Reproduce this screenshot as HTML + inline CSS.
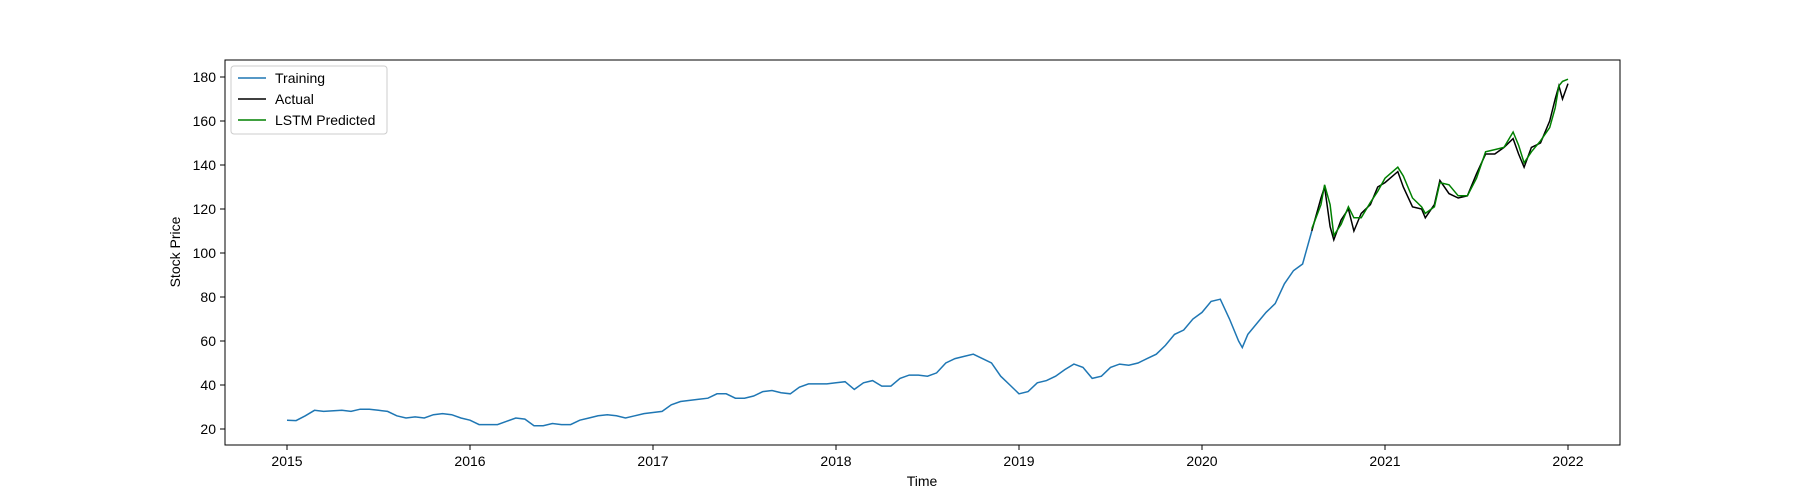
<!DOCTYPE html>
<html><head><meta charset="utf-8"><style>
html,body{margin:0;padding:0;background:#fff;}
svg{display:block;font-family:"Liberation Sans","DejaVu Sans",sans-serif;}
</style></head><body>
<svg id="chart" width="1800" height="500" xmlns="http://www.w3.org/2000/svg">
<rect width="1800" height="500" fill="#fff"/>
<g id="plot"></g>
<rect x="225" y="60" width="1395" height="385" fill="none" stroke="#000" stroke-width="1"/>
<g id="axes"></g>
<text x="922" y="486" font-size="14" text-anchor="middle">Time</text>
<text transform="translate(180,252) rotate(-90)" font-size="14" text-anchor="middle">Stock Price</text>
<g>
<rect x="231" y="66" width="156" height="68" rx="3" fill="#fff" stroke="#ccc"/>
<line x1="238" y1="78" x2="266" y2="78" stroke="#1f77b4" stroke-width="1.5"/>
<text x="275" y="83" font-size="14">Training</text>
<line x1="238" y1="99" x2="266" y2="99" stroke="#000" stroke-width="1.5"/>
<text x="275" y="104" font-size="14">Actual</text>
<line x1="238" y1="120" x2="266" y2="120" stroke="#008000" stroke-width="1.5"/>
<text x="275" y="125" font-size="14">LSTM Predicted</text>
</g>
</svg>
<script>
const trainT=[2015.0,2015.05,2015.1,2015.15,2015.2,2015.3,2015.35,2015.4,2015.45,2015.5,2015.55,2015.6,2015.65,2015.7,2015.75,2015.8,2015.85,2015.9,2015.95,2016.0,2016.05,2016.1,2016.15,2016.2,2016.25,2016.3,2016.35,2016.4,2016.45,2016.5,2016.55,2016.6,2016.65,2016.7,2016.75,2016.8,2016.85,2016.9,2016.95,2017.0,2017.05,2017.1,2017.15,2017.2,2017.25,2017.3,2017.35,2017.4,2017.45,2017.5,2017.55,2017.6,2017.65,2017.7,2017.75,2017.8,2017.85,2017.9,2017.95,2018.0,2018.05,2018.1,2018.15,2018.2,2018.25,2018.3,2018.35,2018.4,2018.45,2018.5,2018.55,2018.6,2018.65,2018.7,2018.75,2018.8,2018.85,2018.9,2018.95,2019.0,2019.05,2019.1,2019.15,2019.2,2019.25,2019.3,2019.35,2019.4,2019.45,2019.5,2019.55,2019.6,2019.65,2019.7,2019.75,2019.8,2019.85,2019.9,2019.95,2020.0,2020.05,2020.1,2020.15,2020.2,2020.22,2020.25,2020.3,2020.35,2020.4,2020.45,2020.5,2020.55,2020.6];
const trainV=[24,23.8,26,28.5,28,28.5,28,29,29,28.5,28,26,25,25.5,25,26.5,27,26.5,25,24,22,22,22,23.5,25,24.5,21.5,21.5,22.5,22,22,24,25,26,26.5,26,25,26,27,27.5,28,31,32.5,33,33.5,34,36,36,34,34,35,37,37.5,36.5,36,39,40.5,40.5,40.5,41,41.5,38,41,42,39.5,39.5,43,44.5,44.5,44,45.5,50,52,53,54,52,50,44,40,36,37,41,42,44,47,49.5,48,43,44,48,49.5,49,50,52,54,58,63,65,70,73,78,79,70,60,57,63,68,73,77,86,92,95,110];
const testT=[2020.6,2020.65,2020.67,2020.7,2020.72,2020.76,2020.8,2020.83,2020.87,2020.92,2020.96,2021.0,2021.07,2021.1,2021.15,2021.2,2021.22,2021.27,2021.3,2021.35,2021.4,2021.45,2021.5,2021.55,2021.6,2021.65,2021.7,2021.73,2021.76,2021.8,2021.85,2021.9,2021.93,2021.95,2021.97,2022.0];
const actualV=[110,125,130,112,106,115,120,110,118,122,130,132,137,130,121,120,116,122,133,127,125,126,136,145,145,148,152,145,139,148,150,160,170,176,170,177];
const predV=[111,122,131,122,108,113,121,116,116,123,128,134,139,135,125,121,118,121,132,131,126,126,134,146,147,148,155,149,141,146,151,157,166,176,178,179];
const yTicks=[20,40,60,80,100,120,140,160,180];
const xTicks=[2015,2016,2017,2018,2019,2020,2021,2022];
const X=t=>287+(t-2015)*183;
const Y=v=>429-(v-20)*2.2;
const NS="http://www.w3.org/2000/svg";
const plot=document.getElementById('plot'),axes=document.getElementById('axes');
function line(ts,vs,color,name){
  const p=document.createElementNS(NS,'path');
  p.setAttribute('d',ts.map((t,i)=>(i?'L':'M')+X(t).toFixed(1)+','+Y(vs[i]).toFixed(1)).join(''));
  p.setAttribute('fill','none');p.setAttribute('stroke',color);p.setAttribute('stroke-width','1.5');
  
  
  plot.appendChild(p);
}
line(trainT,trainV,'#1f77b4','training-line');
line(testT,actualV,'#000','actual-line');
line(testT,predV,'#008000','lstm-predicted-line');
yTicks.forEach(v=>{
  const l=document.createElementNS(NS,'line');
  l.setAttribute('x1',220);l.setAttribute('x2',225);l.setAttribute('y1',Y(v));l.setAttribute('y2',Y(v));l.setAttribute('stroke','#000');
  
  
  axes.appendChild(l);
  const t=document.createElementNS(NS,'text');
  t.setAttribute('x',216);t.setAttribute('y',Y(v)+5);t.setAttribute('font-size','14');t.setAttribute('text-anchor','end');
  t.textContent=v;
  
  
  axes.appendChild(t);
});
xTicks.forEach(v=>{
  const l=document.createElementNS(NS,'line');
  l.setAttribute('x1',X(v));l.setAttribute('x2',X(v));l.setAttribute('y1',445);l.setAttribute('y2',450);l.setAttribute('stroke','#000');
  
  
  axes.appendChild(l);
  const t=document.createElementNS(NS,'text');
  t.setAttribute('x',X(v));t.setAttribute('y',466);t.setAttribute('font-size','14');t.setAttribute('text-anchor','middle');
  t.textContent=v;
  
  
  axes.appendChild(t);
});
</script>
</body></html>
